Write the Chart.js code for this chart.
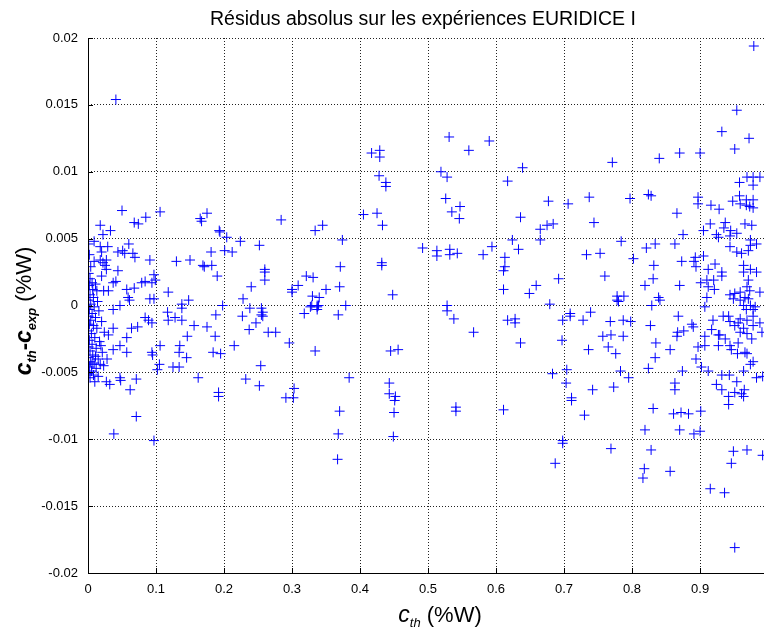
<!DOCTYPE html>
<html lang="fr">
<head>
<meta charset="UTF-8">
<title>Résidus absolus sur les expériences EURIDICE I</title>
<script src="https://cdn.jsdelivr.net/npm/chart.js"></script>
<style>
  body { margin: 0; background: #fff; }
  #wrap { width: 764px; height: 630px; }
</style>
</head>
<body>
<div id="wrap"><canvas id="residus" width="764" height="630"></canvas></div>
<script>
const titre = 'Résidus absolus sur les expériences EURIDICE I';

// c_th (%W)
const cth = [
  0.041, 0.050, 0.085, 0.106, 0.165, 0.018, 0.033, 0.068, 0.074, 0.022, 0.009, 0.018, 0.029, 0.020, 0.060, 0.044,
  0.051, 0.054, 0.066, 0.069, 0.009, 0.018, 0.027, 0.025, 0.022, 0.091, 0.130, 0.150, 0.169, 0.044, 0.027, 0.003,
  0.020, 0.037, 0.041, 0.079, 0.084, 0.094, 0.097, 0.099, 0.007, 0.013, 0.023, 0.030, 0.057, 0.068, 0.118, 0.059,
  0.061, 0.091, 0.097, 0.047, 0.037, 0.138, 0.138, 0.148, 0.084, 0.089, 0.094, 0.117, 0.118, 0.128, 0.138, 0.156,
  0.037, 0.064, 0.073, 0.030, 0.057, 0.146, 0.047, 0.037, 0.057, 0.106, 0.135, 0.134, 0.145, 0.094, 0.095, 0.018,
  0.023, 0.105, 0.102, 0.125, 0.134, 0.010, 0.027, 0.032, 0.047, 0.048, 0.062, 0.071, 0.162, 0.071, 0.038, 0.097,
  // bande dense pres de 0
  0.001, 0.002, 0.004, 0.001, 0.006, 0.002, 0.011, 0.003, 0.008, 0.001, 0.014, 0.004, 0.009, 0.002, 0.016, 0.006,
  0.001, 0.011, 0.004, 0.020, 0.002, 0.008, 0.013, 0.001, 0.005, 0.024, 0.010, 0.002, 0.017, 0.006, 0.001, 0.012,
  0.003, 0.021, 0.007, 0.001, 0.015, 0.004, 0.009, 0.002, 0.012, 0.005, 0.001, 0.008, 0.003, 0.015, 0.006, 0.011,
  0.019, 0.028,
  // 0.17 - 0.5
  0.175, 0.167, 0.193, 0.194, 0.204, 0.224, 0.252, 0.284, 0.181, 0.201, 0.212, 0.171, 0.182, 0.260, 0.260, 0.260,
  0.190, 0.240, 0.228, 0.198, 0.238, 0.255, 0.300, 0.300, 0.309, 0.321, 0.331, 0.334, 0.345, 0.374, 0.330, 0.340,
  0.350, 0.371, 0.370, 0.329, 0.337, 0.379, 0.417, 0.429, 0.429, 0.428, 0.438, 0.438, 0.405, 0.425, 0.433, 0.432,
  0.432, 0.448, 0.492, 0.188, 0.257, 0.257, 0.255, 0.227, 0.247, 0.175, 0.187, 0.237, 0.265, 0.276, 0.215, 0.184,
  0.195, 0.296, 0.254, 0.232, 0.252, 0.192, 0.192, 0.303, 0.291, 0.302, 0.318, 0.327, 0.337, 0.339, 0.337, 0.368,
  0.334, 0.384, 0.370, 0.368, 0.367, 0.445, 0.456, 0.443, 0.443, 0.452, 0.451, 0.450, 0.449,
  // 0.5 - 0.83
  0.531, 0.590, 0.560, 0.639, 0.771, 0.519, 0.528, 0.617, 0.526, 0.535, 0.547, 0.546, 0.677, 0.636, 0.706, 0.737,
  0.797, 0.824, 0.744, 0.665, 0.675, 0.684, 0.665, 0.624, 0.633, 0.513, 0.513, 0.532, 0.532, 0.543, 0.581, 0.594,
  0.613, 0.613, 0.611, 0.611, 0.692, 0.659, 0.649, 0.679, 0.733, 0.753, 0.760, 0.784, 0.802, 0.821, 0.819, 0.778,
  0.788, 0.778, 0.528, 0.528, 0.538, 0.567, 0.617, 0.628, 0.628, 0.636, 0.698, 0.709, 0.709, 0.697, 0.728, 0.739,
  0.736, 0.768, 0.757, 0.769, 0.765, 0.776, 0.787, 0.798, 0.787, 0.780, 0.683, 0.704, 0.703, 0.711, 0.711, 0.742,
  0.773, 0.730, 0.783, 0.795, 0.541, 0.541, 0.611, 0.698, 0.698, 0.687, 0.769, 0.819, 0.818, 0.816, 0.824,
  // 0.83 - 1
  0.979, 0.954, 0.932, 0.972, 0.951, 0.840, 0.870, 0.900, 0.828, 0.897, 0.897, 0.866, 0.916, 0.928, 0.958, 0.969,
  0.978, 0.978, 0.988, 0.958, 0.948, 0.959, 0.968, 0.978, 0.968, 0.973, 0.978, 0.915, 0.937, 0.935, 0.905, 0.924,
  0.927, 0.945, 0.954, 0.944, 0.966, 0.976, 0.875, 0.834, 0.863, 0.944, 0.954, 0.961, 0.974, 0.974, 0.971, 0.983,
  0.905, 0.893, 0.891, 0.894, 0.873, 0.832, 0.912, 0.922, 0.932, 0.932, 0.964, 0.964, 0.974, 0.983, 0.831, 0.870,
  0.901, 0.910, 0.920, 0.912, 0.921, 0.910, 0.971, 0.969, 0.973, 0.988, 0.944, 0.951, 0.959, 0.949, 0.959, 0.966,
  0.971, 0.964, 0.974, 0.981, 0.978, 0.968, 0.839, 0.841, 0.829, 0.907, 0.868, 0.888, 0.890, 0.876, 0.866, 0.867,
  0.827, 0.919, 0.917, 0.929, 0.934, 0.944, 0.942, 0.959, 0.956, 0.969, 0.978, 0.978, 0.964, 0.959, 0.969, 0.951,
  0.988, 0.991, 0.835, 0.856, 0.834, 0.874, 0.897, 0.894, 0.907, 0.907, 0.902, 0.912, 0.927, 0.927, 0.937, 0.944,
  0.946, 0.956, 0.955, 0.966, 0.969, 0.976, 0.978, 0.974, 0.983, 0.932, 0.943, 0.954, 0.924, 0.932, 0.951, 0.964,
  0.965, 0.863, 0.863, 0.992, 0.942, 0.961, 0.964, 0.942, 0.831, 0.861, 0.872, 0.883, 0.901, 0.870, 0.891, 0.900,
  0.828, 0.949, 0.969, 0.992, 0.946, 0.856, 0.915, 0.936, 0.951
];

// c_th - c_exp (%W)
const ecart = [
  0.0154, 0.0071, 0.0066, 0.0070, 0.0065, 0.0060, 0.0056, 0.0062, 0.0061, 0.0053, 0.0048, 0.0044, 0.0044, 0.0040, 0.0046, 0.0040,
  0.0041, 0.0039, 0.0039, 0.0036, 0.0033, 0.0034, 0.0034, 0.0030, 0.0032, 0.0034, 0.0033, 0.0034, 0.0030, 0.0026, 0.0027, 0.0020,
  0.0022, 0.0017, 0.0018, 0.0017, 0.0018, 0.0017, 0.0023, 0.0019, 0.0012, 0.0011, 0.0011, 0.0011, 0.0012, 0.0013, 0.0010, 0.0006,
  0.0004, 0.0005, 0.0005, 0.0000, -0.0003, 0.0001, -0.0002, 0.0004, -0.0009, -0.0011, -0.0013, -0.0005, -0.0011, -0.0009, -0.0011, -0.0015,
  -0.0017, -0.0017, -0.0016, -0.0022, -0.0024, -0.0023, -0.0030, -0.0033, -0.0035, -0.0030, -0.0030, -0.0035, -0.0039, -0.0035, -0.0037, -0.0044,
  -0.0045, -0.0044, -0.0048, -0.0046, -0.0046, -0.0057, -0.0057, -0.0059, -0.0054, -0.0056, -0.0063, -0.0055, -0.0054, -0.0083, -0.0096, -0.0101,
  // bande dense pres de 0
  0.0046, 0.0038, 0.0029, 0.0024, 0.0017, 0.0015, 0.0016, 0.0008, 0.0006, 0.0004, 0.0003, 0.0001, -0.0001, -0.0003, -0.0004, -0.0006,
  -0.0008, -0.0009, -0.0011, -0.0012, -0.0014, -0.0015, -0.0017, -0.0019, -0.0021, -0.0020, -0.0024, -0.0026, -0.0027, -0.0029, -0.0031, -0.0032,
  -0.0034, -0.0035, -0.0037, -0.0039, -0.0040, -0.0042, -0.0043, -0.0046, -0.0047, -0.0049, -0.0051, -0.0052, -0.0054, -0.0053, -0.0044, -0.0038,
  -0.0030, -0.0040,
  // 0.17 - 0.5
  0.0069, 0.0063, 0.0056, 0.0055, 0.0051, 0.0048, 0.0045, 0.0064, 0.0040, 0.0041, 0.0040, 0.0029, 0.0030, 0.0027, 0.0025, 0.0019,
  0.0022, 0.0014, 0.0005, 0.0000, -0.0002, -0.0002, 0.0012, 0.0010, 0.0015, 0.0022, 0.0021, 0.0056, 0.0060, 0.0049, 0.0007, 0.0006,
  0.0012, 0.0029, 0.0014, 0.0000, 0.0000, 0.0000, 0.0114, 0.0116, 0.0111, 0.0097, 0.0092, 0.0089, 0.0068, 0.0069, 0.0060, 0.0032,
  0.0030, 0.0008, 0.0043, -0.0007, -0.0005, -0.0008, -0.0007, -0.0008, -0.0013, -0.0016, -0.0023, -0.0018, -0.0020, -0.0020, -0.0030, -0.0035,
  -0.0036, -0.0028, -0.0045, -0.0055, -0.0060, -0.0065, -0.0068, -0.0062, -0.0069, -0.0069, -0.0006, -0.0001, -0.0001, 0.0000, -0.0003, -0.0007,
  -0.0034, -0.0054, -0.0079, -0.0096, -0.0115, -0.0034, -0.0033, -0.0058, -0.0066, -0.0068, -0.0071, -0.0080, -0.0098,
  // 0.5 - 0.83
  0.0126, 0.0123, 0.0116, 0.0103, 0.0107, 0.0100, 0.0096, 0.0093, 0.0080, 0.0070, 0.0074, 0.0065, 0.0078, 0.0066, 0.0076, 0.0081,
  0.0080, 0.0083, 0.0062, 0.0057, 0.0060, 0.0061, 0.0049, 0.0049, 0.0042, 0.0041, 0.0037, 0.0042, 0.0038, 0.0039, 0.0038, 0.0044,
  0.0036, 0.0029, 0.0026, 0.0012, 0.0020, 0.0015, 0.0009, 0.0001, 0.0038, 0.0039, 0.0022, 0.0048, 0.0035, 0.0043, 0.0015, 0.0007,
  0.0007, 0.0004, 0.0000, -0.0004, -0.0010, -0.0020, -0.0011, -0.0010, -0.0013, -0.0028, -0.0011, -0.0006, -0.0008, -0.0026, -0.0011, -0.0005,
  -0.0033, -0.0012, -0.0023, -0.0022, -0.0031, -0.0036, -0.0011, -0.0012, -0.0023, 0.0003, -0.0051, -0.0048, -0.0058, -0.0069, -0.0071, -0.0063,
  -0.0061, -0.0082, -0.0049, -0.0054, -0.0076, -0.0079, -0.0078, -0.0101, -0.0103, -0.0118, -0.0107, -0.0093, -0.0122, -0.0129, -0.0047,
  // 0.83 - 1
  0.0194, 0.0146, 0.0130, 0.0125, 0.0117, 0.0110, 0.0114, 0.0114, 0.0082, 0.0081, 0.0076, 0.0069, 0.0075, 0.0072, 0.0092, 0.0096,
  0.0096, 0.0090, 0.0096, 0.0082, 0.0078, 0.0076, 0.0079, 0.0079, 0.0075, 0.0074, 0.0073, 0.0061, 0.0062, 0.0058, 0.0056, 0.0053,
  0.0051, 0.0056, 0.0054, 0.0052, 0.0061, 0.0060, 0.0053, 0.0046, 0.0046, 0.0044, 0.0040, 0.0039, 0.0049, 0.0045, 0.0041, 0.0046,
  0.0037, 0.0036, 0.0033, 0.0029, 0.0033, 0.0030, 0.0027, 0.0031, 0.0025, 0.0022, 0.0030, 0.0025, 0.0027, 0.0025, 0.0020, 0.0015,
  0.0017, 0.0019, 0.0019, 0.0014, 0.0012, 0.0006, 0.0019, 0.0014, 0.0011, 0.0010, 0.0008, 0.0009, 0.0010, 0.0005, 0.0004, 0.0006,
  0.0005, 0.0000, 0.0000, -0.0001, -0.0003, -0.0003, 0.0006, 0.0004, 0.0000, -0.0001, -0.0008, -0.0014, -0.0016, -0.0019, -0.0023, -0.0020,
  -0.0015, -0.0011, -0.0018, -0.0022, -0.0008, -0.0012, -0.0008, -0.0010, -0.0013, -0.0011, -0.0008, -0.0015, -0.0017, -0.0020, -0.0021, -0.0015,
  -0.0013, -0.0020, -0.0028, -0.0033, -0.0039, -0.0049, -0.0031, -0.0040, -0.0023, -0.0030, -0.0046, -0.0049, -0.0022, -0.0030, -0.0025, -0.0030,
  -0.0033, -0.0028, -0.0036, -0.0035, -0.0036, -0.0025, -0.0042, -0.0044, -0.0054, -0.0052, -0.0052, -0.0057, -0.0059, -0.0063, -0.0065, -0.0049,
  -0.0063, -0.0058, -0.0063, -0.0053, -0.0068, -0.0066, -0.0068, -0.0074, -0.0077, -0.0081, -0.0080, -0.0081, -0.0079, -0.0093, -0.0096, -0.0094,
  -0.0108, -0.0109, -0.0108, -0.0112, -0.0118, -0.0124, -0.0137, -0.0140, -0.0181
];

const xTicks = [0, 0.1, 0.2, 0.3, 0.4, 0.5, 0.6, 0.7, 0.8, 0.9];
const xTickLabels = ['0', '0.1', '0.2', '0.3', '0.4', '0.5', '0.6', '0.7', '0.8', '0.9'];
const yTicks = [-0.02, -0.015, -0.01, -0.005, 0, 0.005, 0.01, 0.015, 0.02];
const yTickLabels = ['-0.02', '-0.015', '-0.01', '-0.005', '0', '0.005', '0.01', '0.015', '0.02'];

const police = "'Liberation Sans', Arial, sans-serif";

// texte avec indices, centre sur (x, y)
function texteIndice(ctx, morceaux, x, y) {
  let w = 0;
  morceaux.forEach(m => { ctx.font = m[1]; w += ctx.measureText(m[0]).width; });
  let cx = x - w / 2;
  morceaux.forEach(m => {
    ctx.font = m[1];
    ctx.fillText(m[0], cx, y + m[2]);
    cx += ctx.measureText(m[0]).width;
  });
}

const cadre = {
  id: 'cadre',
  afterDraw(chart) {
    const { ctx, chartArea: a, scales: { x, y } } = chart;
    ctx.save();
    ctx.setLineDash([]);
    ctx.strokeStyle = '#000';
    ctx.lineWidth = 1;
    ctx.beginPath();
    ctx.moveTo(a.left + 0.5, a.top);
    ctx.lineTo(a.left + 0.5, a.bottom + 0.5);
    ctx.lineTo(a.right, a.bottom + 0.5);
    xTicks.forEach(v => {
      const px = Math.round(x.getPixelForValue(v)) + 0.5;
      ctx.moveTo(px, a.bottom);
      ctx.lineTo(px, a.bottom - 5);
    });
    yTicks.forEach(v => {
      const py = Math.round(y.getPixelForValue(v)) + 0.5;
      ctx.moveTo(a.left, py);
      ctx.lineTo(a.left + 5, py);
    });
    ctx.stroke();

    ctx.fillStyle = '#000';
    ctx.textBaseline = 'alphabetic';
    ctx.textAlign = 'left';

    // titre
    texteIndice(ctx, [[titre, '19.5px ' + police, 0]], 423, 25);

    // axe x
    texteIndice(ctx, [
      ['c', 'italic 23px ' + police, 0],
      ['th', 'italic 13px ' + police, 5],
      [' (%W)', '22px ' + police, 0]
    ], 440, 622);

    // axe y
    ctx.translate(31, 311);
    ctx.rotate(-Math.PI / 2);
    texteIndice(ctx, [
      ['c', 'bold italic 23px ' + police, 0],
      ['th', 'bold italic 13px ' + police, 5],
      ['-', 'bold 22px ' + police, 0],
      ['c', 'bold italic 23px ' + police, 0],
      ['exp', 'bold italic 13px ' + police, 5],
      [' (%W)', '22px ' + police, 0]
    ], 0, 0);
    ctx.restore();
  }
};

const points = cth.map((v, i) => ({ x: v, y: ecart[i] }));

new Chart(document.getElementById('residus'), {
  type: 'scatter',
  data: {
    datasets: [{
      data: points,
      pointStyle: 'cross',
      pointRadius: 5,
      pointBorderWidth: 1,
      borderColor: '#0000ff',
      backgroundColor: '#0000ff'
    }]
  },
  options: {
    responsive: false,
    animation: false,
    events: [],
    layout: { autoPadding: false, padding: { top: 38, right: 0, left: 0, bottom: 0 } },
    plugins: {
      legend: { display: false },
      tooltip: { enabled: false },
      title: { display: false }
    },
    scales: {
      x: {
        type: 'linear',
        min: 0,
        max: 0.994,
        afterBuildTicks: s => { s.ticks = xTicks.map(v => ({ value: v })); },
        afterFit: s => { s.height = 57; s.paddingLeft = 0; s.paddingRight = 0; },
        ticks: {
          callback: (v, i) => xTickLabels[i],
          font: { family: police, size: 13 },
          color: '#000',
          padding: 9,
          maxRotation: 0,
          autoSkip: false
        },
        grid: { color: '#222', lineWidth: 1, drawTicks: false },
        border: { display: false, dash: [1, 2] }
      },
      y: {
        type: 'linear',
        min: -0.02,
        max: 0.02,
        afterBuildTicks: s => { s.ticks = yTicks.map(v => ({ value: v })); },
        afterFit: s => { s.width = 88; },
        ticks: {
          callback: (v, i) => yTickLabels[i],
          font: { family: police, size: 13 },
          color: '#000',
          padding: 10,
          autoSkip: false
        },
        grid: { color: '#222', lineWidth: 1, drawTicks: false },
        border: { display: false, dash: [1, 2] }
      }
    }
  },
  plugins: [cadre]
});
</script>
</body>
</html>
